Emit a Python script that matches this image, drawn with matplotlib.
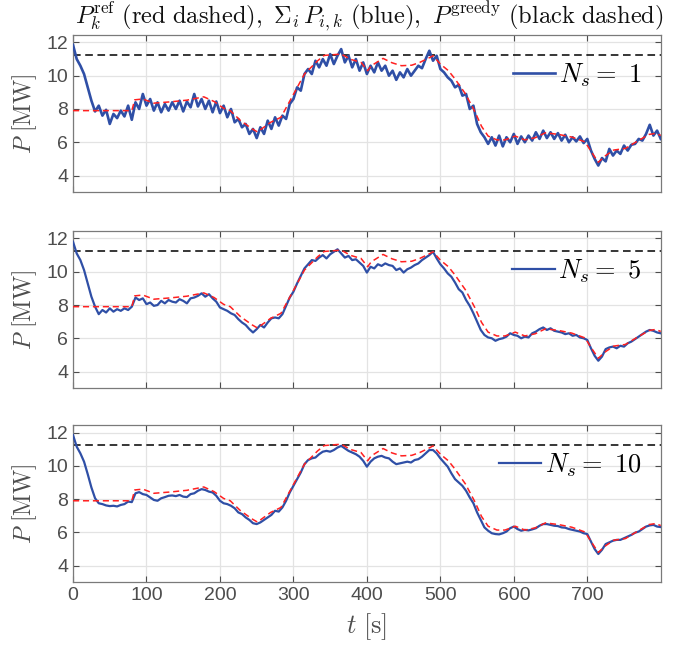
#!/usr/bin/env python3
"""plot.py - tracking of the power reference for three N_s values."""
import numpy as np
import matplotlib
matplotlib.use("Agg")
import matplotlib.pyplot as plt

T_REF = [0, 80, 84, 95, 110, 133, 155, 178, 192, 205, 214, 228, 244, 251,
         269, 283, 296, 315, 333, 342, 365, 378, 392, 401, 406, 422, 434,
         447, 461, 472, 486, 490, 500, 511, 520, 534, 547, 556, 565, 577,
         588, 602, 615, 629, 643, 661, 679, 697, 706, 715, 725, 736, 752,
         765, 784, 793, 800]
P_REF = [7.9, 7.9, 8.55, 8.6, 8.35, 8.43, 8.53, 8.73, 8.45, 8.04, 7.9, 7.3,
         6.8, 6.62, 7.2, 7.5, 8.55, 10.1, 10.9, 11.22, 11.3, 10.98, 10.8,
         10.3, 10.6, 11.04, 10.78, 10.6, 10.63, 10.8, 11.1, 11.2, 10.7, 10.3,
         9.8, 8.92, 7.84, 6.96, 6.37, 6.14, 6.14, 6.37, 6.14, 6.27, 6.57,
         6.47, 6.31, 6.02, 5.39, 4.8, 5.2, 5.53, 5.63, 5.98, 6.47, 6.53, 6.41]
P_GREEDY = 11.27

# summed power (blue), one value every 5 s from 0 to 800 s
T_SUM = list(range(0, 801, 5))
P_NS1 = [11.85, 11.0, 10.6, 10.1, 9.3, 8.5, 7.85, 8.2, 7.6, 7.95,
         7.1, 7.7, 7.45, 7.9, 7.55, 8.2, 7.35, 8.4, 8.0, 8.9,
         8.2, 8.6, 7.9, 8.4, 7.8, 8.3, 7.9, 8.4, 8.0, 8.5,
         7.85, 8.45, 8.1, 8.9, 8.15, 8.6, 8.0, 8.5, 7.8, 8.45,
         7.75, 8.2, 7.5, 8.0, 7.2, 7.4, 6.9, 7.1, 6.5, 6.8,
         6.25, 6.9, 6.5, 7.3, 6.8, 7.5, 7.0, 7.6, 7.4, 8.3,
         8.6, 9.3, 9.1, 10.1, 10.4, 10.1, 10.9, 10.5, 11.0, 10.6,
         11.3, 10.7, 11.2, 11.6, 10.8, 11.2, 10.5, 11.0, 10.3, 10.8,
         10.1, 10.6, 10.2, 10.8, 10.3, 10.6, 10.0, 10.3, 9.75, 10.2,
         9.9, 10.4, 10.0, 10.3, 10.6, 10.45, 11.0, 11.5, 10.9, 11.2,
         10.4, 10.2, 9.9, 9.7, 9.3, 9.45, 8.8, 8.9, 8.0, 8.2,
         7.1, 6.6, 6.3, 5.9, 6.3, 5.8, 6.4, 5.75, 6.3, 6.0,
         6.5, 5.9, 6.35, 6.0, 6.4, 6.1, 6.6, 6.2, 6.7, 6.25,
         6.6, 6.2, 6.55, 6.1, 6.45, 6.0, 6.3, 6.05, 6.35, 5.95,
         6.2, 5.5, 5.0, 4.6, 5.05, 4.85, 5.6, 5.2, 5.5, 5.3,
         5.8, 5.5, 5.85, 5.9, 6.2, 6.1, 6.5, 7.05, 6.4, 6.7,
         6.2]
P_NS5 = [11.8, 11.1, 10.7, 10.1, 9.3, 8.5, 7.9, 7.45, 7.7, 7.55,
         7.8, 7.6, 7.75, 7.65, 7.8, 7.7, 7.9, 8.45, 8.3, 8.4,
         8.05, 8.15, 7.95, 8.0, 8.25, 8.1, 8.3, 8.2, 8.15, 8.35,
         8.25, 8.1, 8.4, 8.45, 8.55, 8.7, 8.5, 8.65, 8.4, 8.2,
         7.85, 7.75, 7.65, 7.5, 7.4, 7.15, 6.95, 6.8, 6.55, 6.35,
         6.55, 6.8, 6.65, 6.95, 7.2, 7.25, 7.2, 7.45, 7.95, 8.45,
         8.8, 9.3, 9.75, 10.2, 10.45, 10.7, 10.65, 10.85, 11.0, 10.8,
         11.05, 11.2, 11.35, 11.1, 10.85, 10.95, 10.7, 10.75, 10.55, 10.35,
         9.95, 10.3, 10.2, 10.45, 10.35, 10.5, 10.4, 10.35, 10.1, 10.2,
         9.95, 10.15, 10.25, 10.4, 10.5, 10.7, 10.85, 11.0, 11.2, 10.8,
         10.45, 10.2, 9.9, 9.7, 9.35, 8.95, 8.75, 8.3, 7.95, 7.5,
         7.0, 6.5, 6.2, 6.05, 6.0, 5.85, 5.95, 6.0, 6.1, 6.3,
         6.2, 6.15, 6.0, 6.1, 6.05, 6.3, 6.4, 6.55, 6.65, 6.5,
         6.6, 6.45, 6.4, 6.35, 6.25, 6.3, 6.15, 6.2, 6.05, 6.0,
         5.9, 5.4, 4.95, 4.65, 4.9, 5.35, 5.45, 5.5, 5.4, 5.55,
         5.5, 5.7, 5.8, 5.95, 6.1, 6.25, 6.4, 6.5, 6.45, 6.35,
         6.3]
P_NS10 = [11.85, 11.15, 10.75, 10.25, 9.5, 8.7, 8.05, 7.75, 7.7, 7.62,
          7.58, 7.6, 7.56, 7.65, 7.7, 7.85, 7.82, 8.35, 8.42, 8.3,
          8.25, 8.1, 7.95, 7.9, 8.05, 8.12, 8.2, 8.22, 8.18, 8.25,
          8.15, 8.12, 8.3, 8.35, 8.5, 8.6, 8.55, 8.45, 8.4, 8.2,
          7.9, 7.75, 7.7, 7.6, 7.45, 7.2, 7.1, 6.9, 6.75, 6.55,
          6.5, 6.6, 6.75, 6.9, 7.05, 7.3, 7.25, 7.5, 7.9, 8.4,
          8.8, 9.2, 9.6, 10.1, 10.35, 10.45, 10.5, 10.7, 10.85, 10.9,
          10.85, 10.95, 11.1, 11.2, 11.05, 10.9, 10.8, 10.7, 10.55, 10.3,
          9.95, 10.25, 10.45, 10.55, 10.6, 10.5, 10.45, 10.25, 10.1, 10.15,
          10.2, 10.25, 10.2, 10.35, 10.4, 10.55, 10.75, 10.95, 10.95, 10.75,
          10.45, 10.2, 9.95, 9.55, 9.2, 9.0, 8.8, 8.5, 8.1, 7.75,
          7.2, 6.75, 6.3, 6.1, 5.95, 5.9, 5.88, 5.95, 6.05, 6.25,
          6.35, 6.2, 6.1, 6.15, 6.12, 6.18, 6.25, 6.4, 6.5, 6.5,
          6.45, 6.4, 6.38, 6.3, 6.28, 6.2, 6.15, 6.1, 6.05, 5.95,
          5.9, 5.45, 5.0, 4.7, 4.95, 5.3, 5.4, 5.5, 5.55, 5.55,
          5.65, 5.75, 5.85, 5.98, 6.05, 6.2, 6.35, 6.42, 6.45, 6.35,
          6.32]

NS_VALUES = [1, 5, 10]
X_TICKS = [0, 100, 200, 300, 400, 500, 600, 700]
Y_TICKS = [4, 6, 8, 10, 12]

BLUE = "#2f4fa6"
TICK_GREY = "#4d4d4d"


def main():
    plt.rcParams["mathtext.fontset"] = "cm"
    plt.rcParams["font.family"] = ["Liberation Sans", "DejaVu Sans"]

    fig = plt.figure(figsize=(6.89, 6.47), dpi=100)
    boxes = [(0.106, 0.703, 0.853, 0.243),
             (0.106, 0.400, 0.853, 0.243),
             (0.106, 0.100, 0.853, 0.243)]
    series = [P_NS1, P_NS5, P_NS10]
    widths = [1.9, 1.6, 1.6]

    for i, (box, p, ns) in enumerate(zip(boxes, series, NS_VALUES)):
        ax = fig.add_axes(box)
        ax.axhline(P_GREEDY, color="black", lw=1.1, dashes=(5, 3), zorder=2)
        ax.plot(T_SUM, p, color=BLUE, lw=widths[i], zorder=3,
                label=r"$N_s =\ %d$" % ns)
        ax.plot(T_REF, P_REF, color="#ff2020", lw=1.1, dashes=(4, 2.5),
                zorder=4)
        ax.set_xlim(0, 800)
        ax.set_ylim(3, 12.45)
        ax.set_xticks(X_TICKS)
        ax.set_yticks(Y_TICKS)
        ax.grid(True, color="#e3e3e3", lw=0.9)
        ax.set_axisbelow(True)
        ax.tick_params(direction="in", top=True, right=True, length=4,
                       labelsize=14, colors=TICK_GREY, width=0.8)
        for s in ax.spines.values():
            s.set_color("#7a7a7a")
            s.set_linewidth(0.9)
        if i < 2:
            ax.tick_params(labelbottom=False)
        ax.set_ylabel(r"$P\ \mathrm{[MW]}$", fontsize=17, color=TICK_GREY,
                      labelpad=5)
        ax.legend(loc="center right", bbox_to_anchor=(0.985, 0.745),
                  frameon=False, fontsize=19, handlelength=1.6,
                  handletextpad=0.15, borderaxespad=0)
        if i == 2:
            ax.set_xlabel(r"$t\ \mathrm{[s]}$", fontsize=19, color=TICK_GREY,
                          labelpad=5)

    fig.text(0.536, 0.962,
             r"$P_k^{\mathrm{ref}}\ \mathrm{(red\ dashed)},\ "
             r"\Sigma_i\, P_{i,k}\ \mathrm{(blue)},\ "
             r"P^{\mathrm{greedy}}\ \mathrm{(black\ dashed)}$",
             fontsize=17.6, ha="center", va="baseline", color="#111111")

    fig.savefig("out.png", dpi=100)


if __name__ == "__main__":
    main()
